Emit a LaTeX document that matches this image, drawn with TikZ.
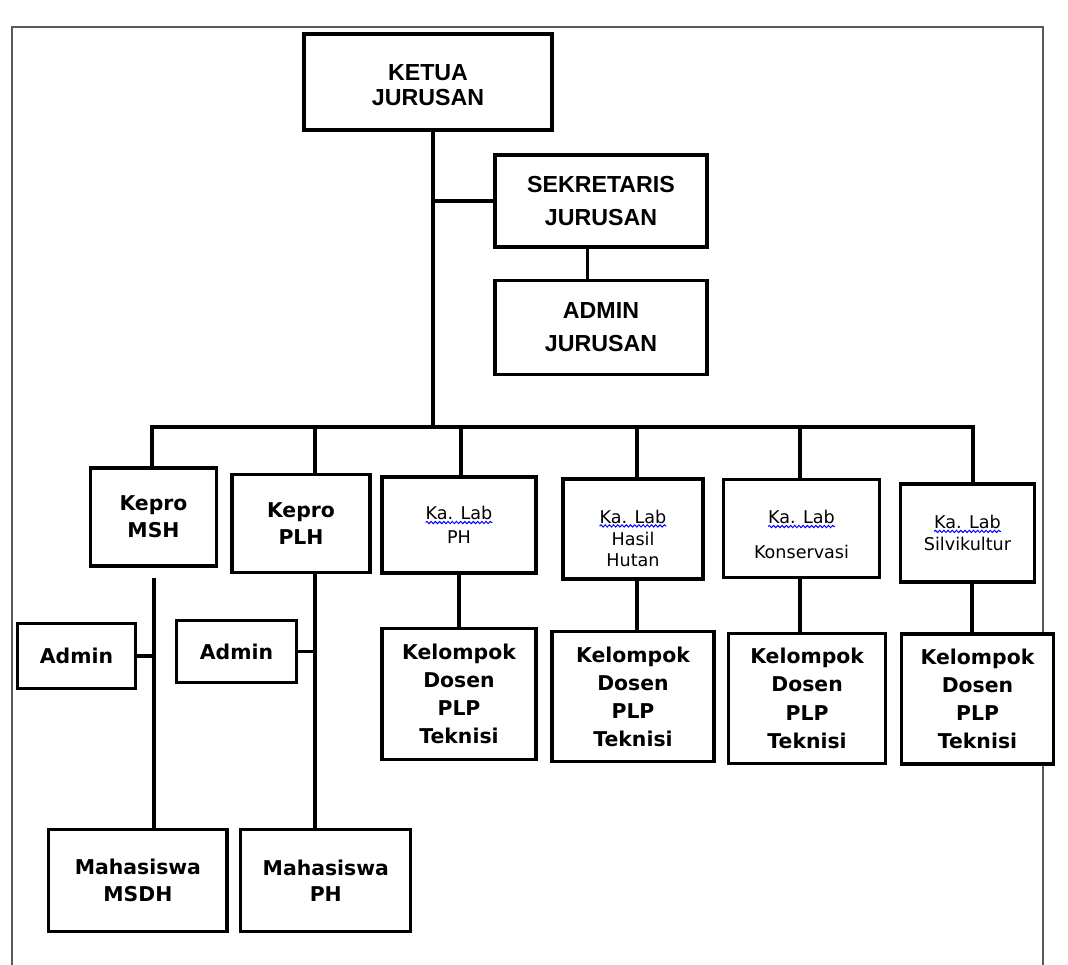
\documentclass[tikz,border=0pt]{standalone}
\usepackage{fontspec}
\setmainfont{Liberation Sans}
\newfontfamily\dejavu{DejaVu Sans}
\usetikzlibrary{positioning,decorations.pathmorphing}

% Ka. Lab with its wavy underline
\newcommand\kalab{\tikz[baseline=(kl.base)]{\node[inner sep=0pt,outer sep=0pt,draw=none,fill=none,
    minimum width=0pt,minimum height=0pt] (kl) {Ka. Lab};
  \draw[blue,line width=0.7pt,decorate,decoration={snake,amplitude=0.8pt,segment length=3pt}]
    ([yshift=-2pt]kl.base west) -- ([yshift=-2pt]kl.base east);}}

\begin{document}
\begin{tikzpicture}[x=0.025cm,y=-0.025cm,line width=2.3pt,
  box/.style={draw,fill=white,align=center,inner sep=1pt},
  head node/.style={box,font=\bfseries\fontsize{16.5}{18}\selectfont},
  unit node/.style={box,font=\dejavu\bfseries\fontsize{14.5}{19}\selectfont},
  lab node/.style={box,font=\dejavu\fontsize{12.5}{15.6}\selectfont},
  frame/.style={line width=1.3pt,black!65}]

  \useasboundingbox (0,0) rectangle (1068,965);
  \draw[frame] (12,965) -- (12,27) -- (1043,27) -- (1043,965);

  % pimpinan
  \node[head node,minimum width=6.2cm,minimum height=2.4cm] (ketua) at (428,82) {\rule{0pt}{16pt}KETUA\\JURUSAN};
  \node[head node,font=\bfseries\fontsize{16.5}{23.5}\selectfont,minimum width=5.3cm,minimum height=2.3cm] (sekre) at (601,201) {SEKRETARIS\\JURUSAN};
  \node[head node,font=\bfseries\fontsize{16.5}{23.5}\selectfont,minimum width=5.3cm,minimum height=2.35cm] (adminj) [below=0.75cm of sekre] {ADMIN\\JURUSAN};

  % kepro dan lab
  \node[unit node,minimum width=3.15cm,minimum height=2.45cm] (kmsh) at (153.5,517) {Kepro\\MSH};
  \node[unit node,minimum width=3.45cm,minimum height=2.45cm] (kplh) at (301,523.5) {Kepro\\PLH};
  \node[lab node,minimum width=3.85cm,minimum height=2.4cm] (labph) at (459,525) {\kalab\\[1.4pt]PH};
  \node[lab node,minimum width=3.5cm,minimum height=2.5cm] (labhh) at (633,529) {\rule{0pt}{23pt}\kalab\\Hasil\\Hutan};
  \node[lab node,minimum width=3.9cm,minimum height=2.45cm] (labkon) at (801.5,528.5) {\rule{0pt}{18pt}\kalab\\[9pt]Konservasi};
  \node[lab node,minimum width=3.35cm,minimum height=2.45cm] (labsil) at (967.5,533) {\kalab\\Silvikultur};

  % kelompok
  \node[unit node,font=\dejavu\bfseries\fontsize{14.5}{20}\selectfont,minimum width=3.85cm,minimum height=3.28cm] (k1) [below=1.33cm of labph] {Kelompok\\Dosen\\PLP\\Teknisi};
  \node[unit node,font=\dejavu\bfseries\fontsize{14.5}{20}\selectfont,minimum width=4.05cm,minimum height=3.25cm] (k2) [below=1.27cm of labhh] {Kelompok\\Dosen\\PLP\\Teknisi};
  \node[unit node,font=\dejavu\bfseries\fontsize{14.5}{20}\selectfont,minimum width=3.92cm,minimum height=3.25cm] (k3) [below=1.35cm of labkon,xshift=0.14cm] {Kelompok\\Dosen\\PLP\\Teknisi};
  \node[unit node,font=\dejavu\bfseries\fontsize{14.5}{20}\selectfont,minimum width=3.8cm,minimum height=3.25cm] (k4) [below=1.25cm of labsil,xshift=0.25cm] {Kelompok\\Dosen\\PLP\\Teknisi};

  % admin dan mahasiswa
  \node[unit node,minimum width=2.95cm,minimum height=1.62cm] (adm1) at (76.5,656) {Admin};
  \node[unit node,minimum width=3cm,minimum height=1.55cm] (adm2) at (236.5,651.5) {Admin};
  \node[unit node,minimum width=4.45cm,minimum height=2.55cm] (mhs1) [below=6.5cm of kmsh,xshift=-0.39cm] {Mahasiswa\\MSDH};
  \node[unit node,minimum width=4.25cm,minimum height=2.55cm] (mhs2) [below=6.35cm of kplh,xshift=0.62cm] {Mahasiswa\\PH};

  % garis
  \coordinate (hub) at (433,427);
  \draw (ketua.south -| hub) -- (hub);
  \draw (sekre.west -| hub) -- (sekre.west);
  \draw ([xshift=-0.33cm]sekre.south) -- ([xshift=-0.33cm]adminj.north);
  \foreach \x/\n in {152/kmsh,315/kplh,461/labph,637/labhh,800/labkon,973/labsil}
    \coordinate (d\n) at (\x,427);
  \draw (dkmsh |- kmsh.north) -- (dkmsh) -- (dlabsil) -- (dlabsil |- labsil.north);
  \foreach \n in {kplh,labph,labhh,labkon}
    \draw (d\n) -- (d\n |- \n.north);
  \foreach \a/\b/\x in {labph/k1/459,labhh/k2/637,labkon/k3/800,labsil/k4/972}
    \draw (\x,0 |- \a.south) -- (\x,0 |- \b.north);

  \coordinate (v1) at (154,578);
  \coordinate (v2) at (315,578);
  \draw (v1) -- (v1 |- mhs1.north);
  \draw (v2 |- kplh.south) -- (v2 |- mhs2.north);
  \draw (adm1.east) -- (adm1.east -| v1);
  \draw (adm2.east) -- (adm2.east -| v2);
\end{tikzpicture}
\end{document}
